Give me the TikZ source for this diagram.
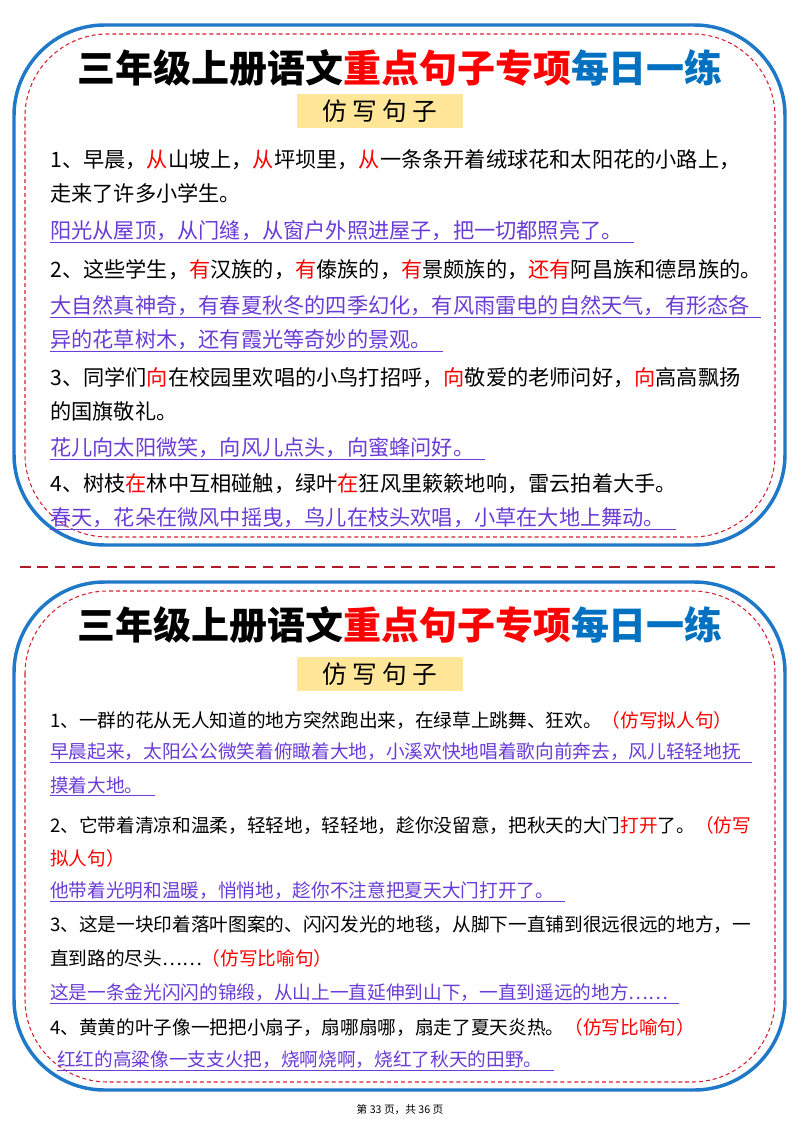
\documentclass[tikz,border=0pt]{standalone}
\usepackage{fontspec}
\setmainfont{Noto Sans CJK SC}
\newfontfamily\cjk{Noto Sans CJK SC}
\definecolor{bluebox}{HTML}{1F78C8}
\definecolor{redd}{HTML}{D42030}
\definecolor{titleblue}{HTML}{0070C0}
\definecolor{pur}{HTML}{6A3BD6}
\definecolor{yel}{HTML}{FFE699}
\newcommand{\R}[1]{\textcolor{red}{#1}}
\tikzset{
 outer/.style={draw=bluebox,line width=2.6pt,rounded corners=68pt},
 inner/.style={draw=redd,line width=0.8pt,dash pattern=on 3pt off 2.2pt,rounded corners=62pt},
 txt/.style={anchor=west,inner sep=0pt,font=\cjk\fontsize{15.9pt}{18pt}\selectfont},
 txs/.style={anchor=west,inner sep=0pt,font=\cjk\fontsize{14pt}{17pt}\selectfont},
 ptxt/.style={txt,text=pur},
 ptxs/.style={txs,text=pur},
 ul/.style={draw=pur,line width=0.9pt},
 ttl/.style={font=\cjk\bfseries\fontsize{28.5pt}{32pt}\selectfont,inner sep=0pt},
 lab/.style={fill=yel,minimum width=125pt,minimum height=26pt,font=\cjk\fontsize{18.5pt}{22pt}\selectfont,inner sep=0pt},
}
\newcommand{\pl}[4]{\node[#4] (#1) at #2 {#3};\draw[ul] ([yshift=-1pt]#1.south west) -- ([xshift=8pt,yshift=-1pt]#1.south east);}
\begin{document}
\begin{tikzpicture}[x=0.75pt,y=-0.75pt]
\useasboundingbox (0,0) rectangle (800,1132);
% box 1
\draw[outer] (14,25) rectangle (785,545);
\draw[inner] (25,34) rectangle (775,537);
\node[ttl] (t1) at (400,68) {三年级上册语文\textcolor{red}{重点句子专项}\textcolor{titleblue}{每日一练}};
\node[lab] (l1) at (380,111) {仿\hspace{4pt}写\hspace{4pt}句\hspace{4pt}子};
\node[txt] (a1) at (50,160) {1、早晨，\R{从}山坡上，\R{从}坪坝里，\R{从}一条条开着绒球花和太阳花的小路上，};
\node[txt] (a2) at (50,193) {走来了许多小学生。};
\pl{a3}{(50,231)}{阳光从屋顶，从门缝，从窗户外照进屋子，把一切都照亮了。}{ptxt}
\node[txt] (a4) at (50,270) {2、这些学生，\R{有}汉族的，\R{有}傣族的，\R{有}景颇族的，\R{还有}阿昌族和德昂族的。};
\pl{a5}{(50,306)}{大自然真神奇，有春夏秋冬的四季幻化，有风雨雷电的自然天气，有形态各}{ptxt}
\pl{a6}{(50,340)}{异的花草树木，还有霞光等奇妙的景观。}{ptxt}
\node[txt] (a7) at (50,378) {3、同学们\R{向}在校园里欢唱的小鸟打招呼，\R{向}敬爱的老师问好，\R{向}高高飘扬};
\node[txt] (a8) at (50,411) {的国旗敬礼。};
\pl{a9}{(50,448)}{花儿向太阳微笑，向风儿点头，向蜜蜂问好。}{ptxt}
\node[txt] (a10) at (50,484) {4、树枝\R{在}林中互相碰触，绿叶\R{在}狂风里簌簌地响，雷云拍着大手。};
\pl{a11}{(50,518)}{春天，花朵在微风中摇曳，鸟儿在枝头欢唱，小草在大地上舞动。}{ptxt}
% separator
\coordinate (s1) at (20,567); \coordinate (s2) at (775,567);
\draw[draw=redd!85!black,line width=2pt,dash pattern=on 8pt off 5pt] (s1) -- (s2);
% box 2
\draw[outer] (14,582) rectangle (785,1090);
\draw[inner] (25,591) rectangle (775,1082);
\node[ttl] (t2) at (400,625) {三年级上册语文\textcolor{red}{重点句子专项}\textcolor{titleblue}{每日一练}};
\node[lab] (l2) at (380,674) {仿\hspace{4pt}写\hspace{4pt}句\hspace{4pt}子};
\node[txs] (b1) at (50,720) {1、一群的花从无人知道的地方突然跑出来，在绿草上跳舞、狂欢。\R{（仿写拟人句）}};
\pl{b2}{(50,752)}{早晨起来，太阳公公微笑着俯瞰着大地，小溪欢快地唱着歌向前奔去，风儿轻轻地抚}{ptxs}
\pl{b3}{(50,785)}{摸着大地。}{ptxs}
\node[txs] (b4) at (50,825) {2、它带着清凉和温柔，轻轻地，轻轻地，趁你没留意，把秋天的大门\R{打开}了。\R{（仿写}};
\node[txs] (b5) at (50,858) {\R{拟人句）}};
\pl{b6}{(50,891)}{他带着光明和温暖，悄悄地，趁你不注意把夏天大门打开了。}{ptxs}
\node[txs] (b7) at (50,925) {3、这是一块印着落叶图案的、闪闪发光的地毯，从脚下一直铺到很远很远的地方，一};
\node[txs] (b8) at (50,958) {直到路的尽头……\R{（仿写比喻句）}};
\pl{b9}{(50,993)}{这是一条金光闪闪的锦缎，从山上一直延伸到山下，一直到遥远的地方……}{ptxs}
\node[txs] (b10) at (50,1027) {4、黄黄的叶子像一把把小扇子，扇哪扇哪，扇走了夏天炎热。\R{（仿写比喻句）}};
\pl{b11}{(57,1060)}{红红的高粱像一支支火把，烧啊烧啊，烧红了秋天的田野。}{ptxs}
\node[inner sep=0pt,font=\cjk\fontsize{8pt}{10pt}\selectfont] (ft) at (400,1110) {第\ 33\ 页，共\ 36\ 页};
\end{tikzpicture}
\end{document}
